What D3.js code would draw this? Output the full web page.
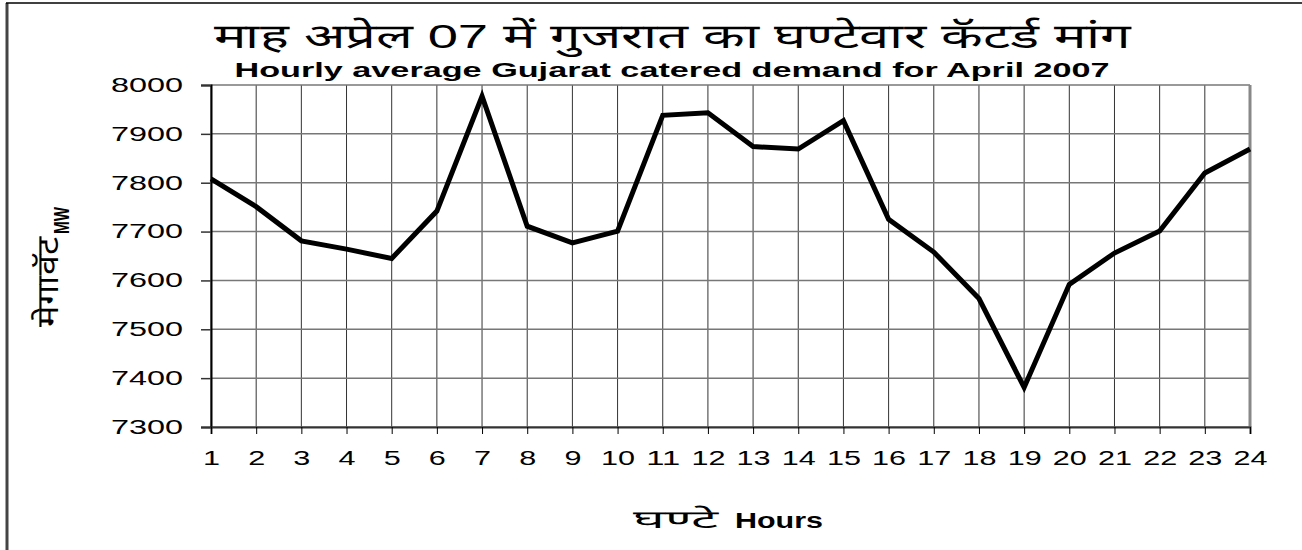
<!DOCTYPE html>
<html>
<head>
<meta charset="utf-8">
<script src="https://cdn.jsdelivr.net/npm/d3@7"></script>
<style>
  body { margin: 0; background: #fff; }
  text { font-family: "Liberation Sans", Arial, sans-serif; fill: #000; }
</style>
</head>
<body>
<div id="chart"></div>
<script>
// hourly data
var hours = d3.range(1, 25);
var demand = [7808, 7751, 7681, 7664, 7645, 7742, 7977, 7711, 7677, 7701, 7938, 7943,
              7874, 7869, 7927, 7725, 7658, 7563, 7381, 7592, 7656, 7701, 7820, 7869];
var yTicks = [7300, 7400, 7500, 7600, 7700, 7800, 7900, 8000];

var titleHi = "माह अप्रेल 07 में गुजरात का घण्टेवार कॅटर्ड मांग";
var titleEn = "Hourly average Gujarat catered demand for April 2007";
var xLabelHi = "घण्टे", xLabelEn = "Hours";
var yLabelHi = "मेगावॅट", yLabelEn = "MW";

var W = 1302, H = 550;
var margin = {top: 85, right: 52, bottom: 123, left: 211};

var svg = d3.select("#chart").append("svg")
    .attr("width", W)
    .attr("height", H);

// outer frame (only left and top show)
svg.append("line").attr("x1", 7).attr("x2", 7).attr("y1", 3).attr("y2", H)
    .attr("stroke", "#444").attr("stroke-width", 3);
svg.append("line").attr("x1", 6).attr("x2", W).attr("y1", 3).attr("y2", 3)
    .attr("stroke", "#000").attr("stroke-width", 1.5);

var x = d3.scaleLinear().domain([1, 24]).range([margin.left, W - margin.right]);
var y = d3.scaleLinear().domain([7300, 8000]).range([H - margin.bottom, margin.top]);

// gridlines
svg.append("g").selectAll("line").data(hours).enter().append("line")
    .attr("x1", function(d) { return x(d); })
    .attr("x2", function(d) { return x(d); })
    .attr("y1", y(8000)).attr("y2", y(7300))
    .attr("stroke", "#333").attr("stroke-width", 1);

svg.append("g").selectAll("line").data(yTicks).enter().append("line")
    .attr("x1", x(1)).attr("x2", x(24))
    .attr("y1", function(d) { return y(d); })
    .attr("y2", function(d) { return y(d); })
    .attr("stroke", "#777").attr("stroke-width", 1.5);

// plot border right side
svg.append("line").attr("x1", x(24)).attr("x2", x(24))
    .attr("y1", y(8000)).attr("y2", y(7300))
    .attr("stroke", "#888").attr("stroke-width", 3);

// y axis
var yAxis = svg.append("g")
    .attr("transform", "translate(" + x(1) + ",0)")
    .call(d3.axisLeft(y).tickValues(yTicks).tickFormat(d3.format("d")).tickSize(10).tickPadding(18));
yAxis.select(".domain").attr("stroke", "#000").attr("stroke-width", 2);
yAxis.selectAll(".tick line").attr("stroke", "#333").attr("stroke-width", 1.5);
yAxis.selectAll(".tick text")
    .style("font-size", "20px")
    .attr("textLength", 72).attr("lengthAdjust", "spacingAndGlyphs");

// x axis
var xAxis = svg.append("g")
    .attr("transform", "translate(0," + y(7300) + ")")
    .call(d3.axisBottom(x).tickValues(hours).tickFormat(d3.format("d")).tickSize(7).tickPadding(17));
xAxis.select(".domain").attr("stroke", "#333").attr("stroke-width", 2);
xAxis.selectAll(".tick line").attr("stroke", "#000").attr("stroke-width", 1);
xAxis.selectAll(".tick text")
    .style("font-size", "20px")
    .attr("textLength", function(d) { return String(d).length * 17; })
    .attr("lengthAdjust", "spacingAndGlyphs");

// data line
var line = d3.line()
    .x(function(d, i) { return x(hours[i]); })
    .y(function(d) { return y(d); });

svg.append("path")
    .datum(demand)
    .attr("fill", "none")
    .attr("stroke", "#000")
    .attr("stroke-width", 5)
    .attr("stroke-linejoin", "miter")
    .attr("d", line);

// titles
svg.append("text")
    .attr("x", 672).attr("y", 48)
    .attr("text-anchor", "middle")
    .style("font-size", "34px")
    .attr("textLength", 917).attr("lengthAdjust", "spacingAndGlyphs")
    .text(titleHi);

svg.append("text")
    .attr("x", 672).attr("y", 77)
    .attr("text-anchor", "middle")
    .style("font-size", "20px").style("font-weight", "bold")
    .attr("textLength", 875).attr("lengthAdjust", "spacingAndGlyphs")
    .text(titleEn);

// x axis label
svg.append("text")
    .attr("x", 633).attr("y", 528)
    .style("font-size", "25px")
    .attr("textLength", 86).attr("lengthAdjust", "spacingAndGlyphs")
    .text(xLabelHi);
svg.append("text")
    .attr("x", 735).attr("y", 528)
    .style("font-size", "22px").style("font-weight", "bold")
    .attr("textLength", 88).attr("lengthAdjust", "spacingAndGlyphs")
    .text(xLabelEn);

// y axis label, rotated
var yl = svg.append("g")
    .attr("transform", "translate(58,0) rotate(-90)");
yl.append("text")
    .attr("x", -327).attr("y", 0)
    .style("font-size", "30px")
    .attr("textLength", 90).attr("lengthAdjust", "spacingAndGlyphs")
    .text(yLabelHi);
yl.append("text")
    .attr("x", -234).attr("y", 11)
    .style("font-size", "22px").style("font-weight", "bold")
    .attr("textLength", 27).attr("lengthAdjust", "spacingAndGlyphs")
    .text(yLabelEn);
</script>
</body>
</html>
